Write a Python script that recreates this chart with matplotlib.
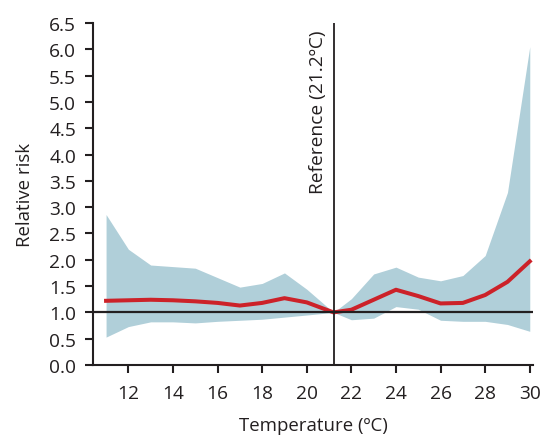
import numpy as np
import matplotlib
matplotlib.use("Agg")
import matplotlib.pyplot as plt

plt.rcParams['font.family'] = ['Open Sans', 'DejaVu Sans']

# temperature points (reference at 21.2)
temps = [11, 12, 13, 14, 15, 16, 17, 18, 19, 20, 21.2, 22, 23, 24, 25, 26, 27, 28, 29, 30]
rr = [1.22, 1.23, 1.24, 1.23, 1.21, 1.18, 1.13, 1.18, 1.27, 1.19, 1.0,
      1.05, 1.24, 1.43, 1.31, 1.17, 1.18, 1.33, 1.58, 1.97]
upper = [2.86, 2.20, 1.90, 1.87, 1.84, 1.66, 1.48, 1.55, 1.75, 1.44, 1.0,
         1.26, 1.73, 1.86, 1.67, 1.60, 1.70, 2.08, 3.28, 6.05]
lower = [0.53, 0.73, 0.82, 0.82, 0.80, 0.83, 0.85, 0.87, 0.91, 0.95, 1.0,
         0.86, 0.89, 1.11, 1.06, 0.85, 0.83, 0.83, 0.77, 0.64]
ref_temp = 21.2
xticks = [12, 14, 16, 18, 20, 22, 24, 26, 28, 30]
yticks = np.arange(0, 6.51, 0.5)

ink = '#231f20'

fig = plt.figure(figsize=(5.43, 4.39), dpi=100)
ax = fig.add_axes([0.1707, 0.1663, 0.8115, 0.779])

ax.fill_between(temps, lower, upper, color='#b0cfd9', linewidth=0, zorder=1)
ax.plot(temps, rr, color='#cc2229', linewidth=2.9, zorder=3)
ax.axhline(1.0, color=ink, linewidth=1.6, zorder=4)
ax.axvline(ref_temp, color=ink, linewidth=1.3, zorder=4)
ax.text(ref_temp - 0.3, 3.27, 'Reference (21.2ºC)', rotation=90,
        ha='right', va='bottom', fontsize=13.8, color=ink)

ax.set_xlim(10.4, 30.16)
ax.set_ylim(0, 6.5)
ax.set_xticks(xticks)
ax.set_yticks(yticks)
ax.set_yticklabels(['%.1f' % v for v in yticks])

for s in ['top', 'right']:
    ax.spines[s].set_visible(False)
for s in ['left', 'bottom']:
    ax.spines[s].set_linewidth(1.5)
    ax.spines[s].set_color(ink)

ax.tick_params(direction='out', length=6, width=1.5, color=ink,
               labelsize=13.8, labelcolor=ink)
ax.tick_params(axis='x', pad=8)
ax.tick_params(axis='y', pad=6)

ax.set_xlabel('Temperature (ºC)', fontsize=13.4, color=ink, labelpad=10)
ax.set_ylabel('Relative risk', fontsize=13.4, color=ink, labelpad=11)

fig.savefig('out.png', dpi=100)
